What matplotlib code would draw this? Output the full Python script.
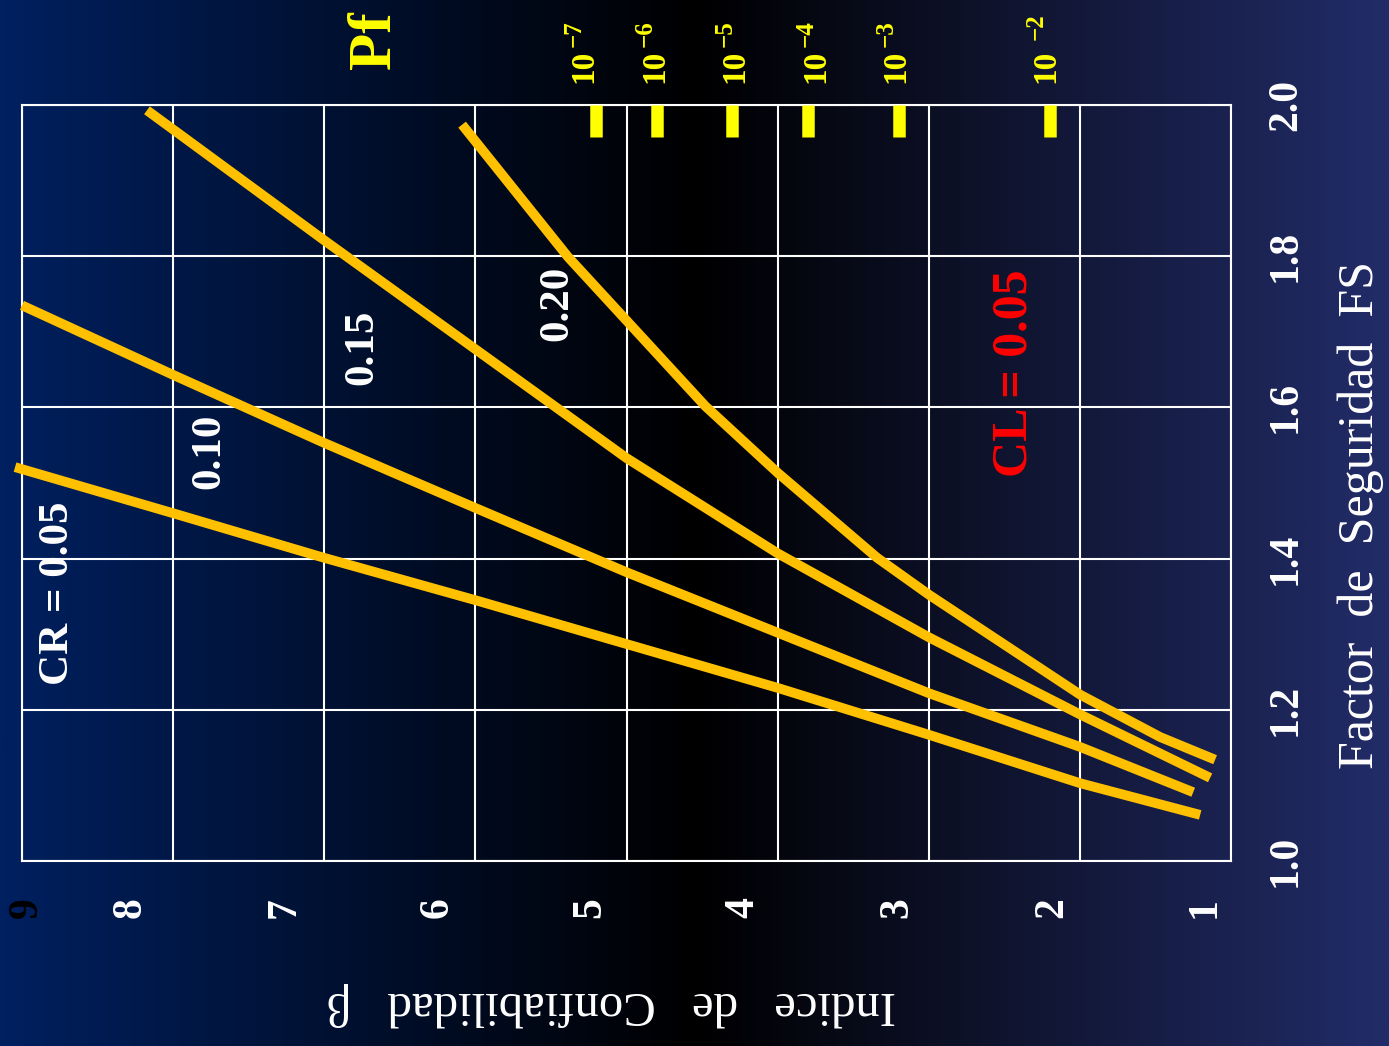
import numpy as np
import matplotlib.pyplot as plt
from matplotlib.colors import LinearSegmentedColormap
from matplotlib.transforms import ScaledTranslation

plt.rcParams['font.family'] = ['Liberation Serif', 'DejaVu Serif']

# curvas beta (indice de confiabilidad) vs FS, una por coeficiente de variacion CR
beta_cr05 = [9.046, 8.0, 7.0, 6.0, 5.0, 4.0, 3.0, 2.0, 1.204]
fs_cr05 = [1.521, 1.460, 1.401, 1.345, 1.287, 1.229, 1.167, 1.103, 1.061]

beta_cr10 = [9.0, 8.0, 7.0, 6.0, 5.0, 4.0, 3.0, 2.0, 1.25]
fs_cr10 = [1.735, 1.643, 1.553, 1.467, 1.382, 1.302, 1.222, 1.151, 1.091]

beta_cr15 = [8.173, 7.0, 6.0, 5.0, 4.0, 3.0, 2.0, 1.138]
fs_cr15 = [1.993, 1.821, 1.677, 1.533, 1.407, 1.296, 1.194, 1.110]

beta_cr20 = [6.088, 5.387, 4.48, 3.997, 3.341, 2.997, 1.998, 1.469, 1.105]
fs_cr20 = [1.974, 1.799, 1.602, 1.513, 1.401, 1.352, 1.220, 1.164, 1.134]

# marcas de probabilidad de falla
pf_beta = [5.2, 4.8, 4.3, 3.8, 3.2, 2.2]
pf_exp = ['\u22127', '\u22126', '\u22125', '\u22124', '\u22123', '\u22122']

beta_ticks = [9, 8, 7, 6, 5, 4, 3, 2, 1]
fs_ticks = [1.0, 1.2, 1.4, 1.6, 1.8, 2.0]

W, H = 1389, 1046
fig = plt.figure(figsize=(W / 100, H / 100), dpi=100)

# fondo degradado azul - negro - azul
cmap = LinearSegmentedColormap.from_list(
    'fondo', [(0.0, '#00205f'), (0.5, '#000000'), (1.0, '#222c68')])
bg = fig.add_axes([0, 0, 1, 1])
bg.imshow(np.linspace(0, 1, 512)[None, :], aspect='auto', cmap=cmap,
          extent=[0, 1, 0, 1])
bg.axis('off')

ax = fig.add_axes([22 / W, 1 - 861 / H, (1231 - 22) / W, (861 - 105) / H])
ax.set_facecolor('none')
ax.set_xlim(9, 1)
ax.set_ylim(1.0, 2.0)

ax.set_xticks(beta_ticks)
ax.set_yticks(fs_ticks)
ax.grid(True, color='white', linewidth=1.5)
for s in ax.spines.values():
    s.set_color('white')
    s.set_linewidth(1.5)

ax.set_xticklabels([str(b) for b in beta_ticks], rotation=90, fontsize=30,
                   fontweight='bold', color='white')
ax.yaxis.tick_right()
ax.set_yticklabels([f'{v:.1f}' for v in fs_ticks], rotation=90, va='center',
                   fontsize=30, fontweight='bold', color='white')
ax.tick_params(axis='x', length=0, pad=26)
ax.tick_params(axis='y', length=0, pad=26)

# desplazamiento de las etiquetas de beta como en el original
offsets = [5, -43, -40, -38, -36, -34, -31, -28, -26]
for lbl, dx in zip(ax.get_xticklabels(), offsets):
    lbl.set_transform(lbl.get_transform() +
                      ScaledTranslation(dx / 100, 0, fig.dpi_scale_trans))
ax.get_xticklabels()[0].set_color('black')

gold = '#ffc000'
for b, f in [(beta_cr05, fs_cr05), (beta_cr10, fs_cr10),
             (beta_cr15, fs_cr15), (beta_cr20, fs_cr20)]:
    ax.plot(b, f, color=gold, linewidth=7, solid_capstyle='butt',
            solid_joinstyle='round', clip_on=False, zorder=4)

yellow = '#ffff00'
ax.vlines(pf_beta, 1.958, 2.0, colors=yellow, linewidth=9, zorder=3)
lab_dx = [-9, -1, 2, 6, -2, -3]
sup_gap = [0, 0, 0, 0, 0, 5]
for b, e, dx, g in zip(pf_beta, pf_exp, lab_dx, sup_gap):
    ax.annotate('10', xy=(b, 1.0), xycoords=('data', 'axes fraction'),
                xytext=(dx, 16), textcoords='offset points', rotation=90,
                ha='center', va='bottom', fontsize=24, fontweight='bold',
                color=yellow, annotation_clip=False)
    ax.annotate(e, xy=(b, 1.0), xycoords=('data', 'axes fraction'),
                xytext=(dx - 7, 42 + g), textcoords='offset points',
                rotation=90, ha='center', va='bottom', fontsize=18,
                fontweight='bold', color=yellow, annotation_clip=False)

ax.text(0.292, 1.086, 'Pf', transform=ax.transAxes, rotation=90,
        ha='center', va='center', fontsize=44, fontweight='bold',
        color=yellow)

lab = dict(rotation=90, ha='center', va='center', fontsize=31,
           fontweight='bold', color='white', zorder=5)
ax.text(8.76, 1.3545, 'CR = 0.05', **lab)
ax.text(7.76, 1.542, '0.10', **lab)
ax.text(6.75, 1.679, '0.15', **lab)
ax.text(5.46, 1.738, '0.20', **lab)
ax.text(2.43, 1.6455, 'CL = 0.05', rotation=90, ha='center', va='center',
        fontsize=36, fontweight='bold', color='red')

ax.text(1.107, 0.4577, 'Factor  de  Seguridad  FS', transform=ax.transAxes,
        rotation=90, ha='center', va='center', fontsize=36, color='white')
ax.text(0.487, -0.190, 'Indice   de   Confiabilidad   β',
        transform=ax.transAxes, rotation=180, ha='center', va='center',
        fontsize=35, color='white')

fig.savefig('out.png', dpi=100)
